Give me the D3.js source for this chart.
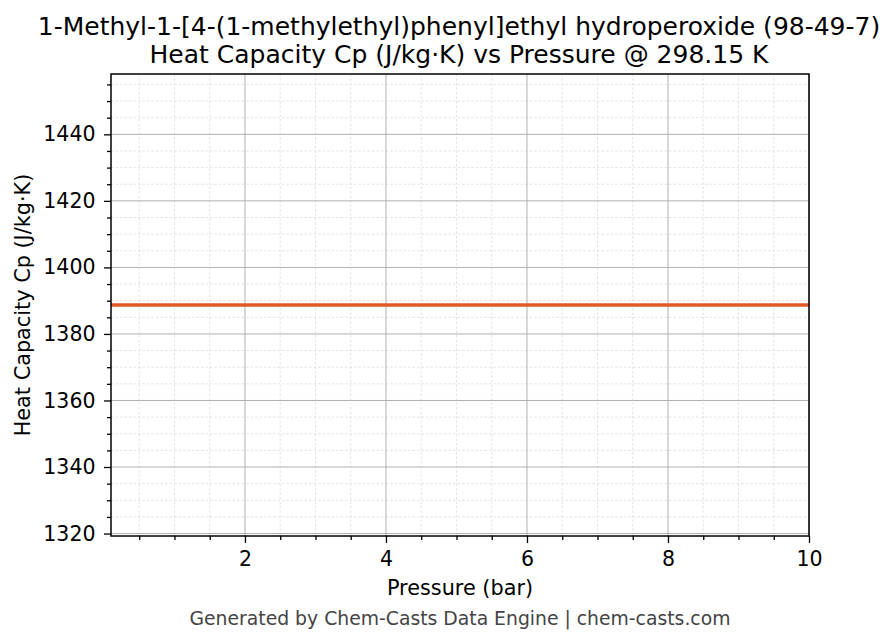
<!DOCTYPE html>
<html><head><meta charset="utf-8">
<script src="https://cdn.jsdelivr.net/npm/d3@7"></script>
<style>body{margin:0;background:#fff}svg{display:block;font-family:"DejaVu Sans",sans-serif}</style>
</head><body>
<svg id="c" width="896" height="644"></svg>
<script>
const titleLines = ["1-Methyl-1-[4-(1-methylethyl)phenyl]ethyl hydroperoxide (98-49-7)",
                    "Heat Capacity Cp (J/kg·K) vs Pressure @ 298.15 K"];
const xLabel = "Pressure (bar)";
const yLabel = "Heat Capacity Cp (J/kg·K)";
const footer = "Generated by Chem-Casts Data Engine | chem-casts.com";
const pressure = [0.1, 1, 2, 3, 4, 5, 6, 7, 8, 9, 10];
const cp = [1388.7, 1388.7, 1388.7, 1388.7, 1388.7, 1388.7, 1388.7, 1388.7, 1388.7, 1388.7, 1388.7];
const xTicks = [2, 4, 6, 8, 10];
const yTicks = [1320, 1340, 1360, 1380, 1400, 1420, 1440];

const svg = d3.select("#c");
const L = 111, R = 809, T = 74, B = 536;
const yPad = 0.05;
const cpVal = d3.max(cp);
const x = d3.scaleLinear().domain(d3.extent(pressure)).range([L, R]);
const y = d3.scaleLinear().domain([cpVal * (1 - yPad), cpVal * (1 + yPad)]).range([B, T]);

const xMinor = d3.range(0.5, 10.01, 0.5).filter(v => v >= x.domain()[0] && !xTicks.some(t => Math.abs(t - v) < 1e-9));
const yMinor = d3.range(1320, 1460, 5).filter(v => v >= y.domain()[0] && v <= y.domain()[1] && !yTicks.includes(v));

// minor grid
const g = svg.append("g");
g.selectAll(".mgx").data(xMinor).join("line")
  .attr("x1", d => x(d)).attr("x2", d => x(d)).attr("y1", T).attr("y2", B)
  .attr("stroke", "#dcdcdc").attr("stroke-width", 0.8).attr("stroke-dasharray", "2.5,2");
g.selectAll(".mgy").data(yMinor).join("line")
  .attr("y1", d => y(d)).attr("y2", d => y(d)).attr("x1", L).attr("x2", R)
  .attr("stroke", "#dcdcdc").attr("stroke-width", 0.8).attr("stroke-dasharray", "2.5,2");
// major grid
g.selectAll(".gx").data(xTicks).join("line")
  .attr("x1", d => x(d)).attr("x2", d => x(d)).attr("y1", T).attr("y2", B)
  .attr("stroke", "#b0b0b0").attr("stroke-width", 1);
g.selectAll(".gy").data(yTicks).join("line")
  .attr("y1", d => y(d)).attr("y2", d => y(d)).attr("x1", L).attr("x2", R)
  .attr("stroke", "#b0b0b0").attr("stroke-width", 1);

// data line
svg.append("path").datum(pressure.map((p, i) => [p, cp[i]]))
  .attr("d", d3.line().x(d => x(d[0])).y(d => y(d[1])))
  .attr("fill", "none").attr("stroke", "#e05a24").attr("stroke-width", 3.6);

// axes
const xAxis = svg.append("g").attr("transform", `translate(0,${B})`)
  .call(d3.axisBottom(x).tickValues(xTicks).tickFormat(d3.format("d")).tickSize(7).tickPadding(8));
const xAxisMinor = svg.append("g").attr("transform", `translate(0,${B})`)
  .call(d3.axisBottom(x).tickValues(xMinor).tickFormat("").tickSize(4));
const yAxis = svg.append("g").attr("transform", `translate(${L},0)`)
  .call(d3.axisLeft(y).tickValues(yTicks).tickFormat(d3.format("d")).tickSize(7).tickPadding(8.5));
const yAxisMinor = svg.append("g").attr("transform", `translate(${L},0)`)
  .call(d3.axisLeft(y).tickValues(yMinor).tickFormat("").tickSize(4));
[xAxis, xAxisMinor, yAxis, yAxisMinor].forEach(a => {
  a.select(".domain").remove();
  a.selectAll("line").attr("stroke", "#000").attr("stroke-width", 1.3);
  a.selectAll("text").attr("font-family", "DejaVu Sans").attr("font-size", 20.5).attr("fill", "#000");
});
// spines
svg.append("rect").attr("x", L).attr("y", T).attr("width", R - L).attr("height", B - T)
  .attr("fill", "none").attr("stroke", "#000").attr("stroke-width", 1.5);

// titles
svg.append("text").attr("x", 459).attr("y", 35).attr("text-anchor", "middle")
  .attr("font-size", 25).attr("fill", "#000").text(titleLines[0]);
svg.append("text").attr("x", 459).attr("y", 63).attr("text-anchor", "middle")
  .attr("font-size", 25).attr("fill", "#000").text(titleLines[1]);
svg.append("text").attr("x", (L + R) / 2).attr("y", 595).attr("text-anchor", "middle")
  .attr("font-size", 20.8).attr("fill", "#000").text(xLabel);
svg.append("text").attr("transform", `translate(30,${(T + B) / 2}) rotate(-90)`).attr("text-anchor", "middle")
  .attr("font-size", 20.8).attr("fill", "#000").text(yLabel);
svg.append("text").attr("x", 460).attr("y", 625).attr("text-anchor", "middle")
  .attr("font-size", 18.8).attr("fill", "#444").text(footer);
</script>
</body></html>
